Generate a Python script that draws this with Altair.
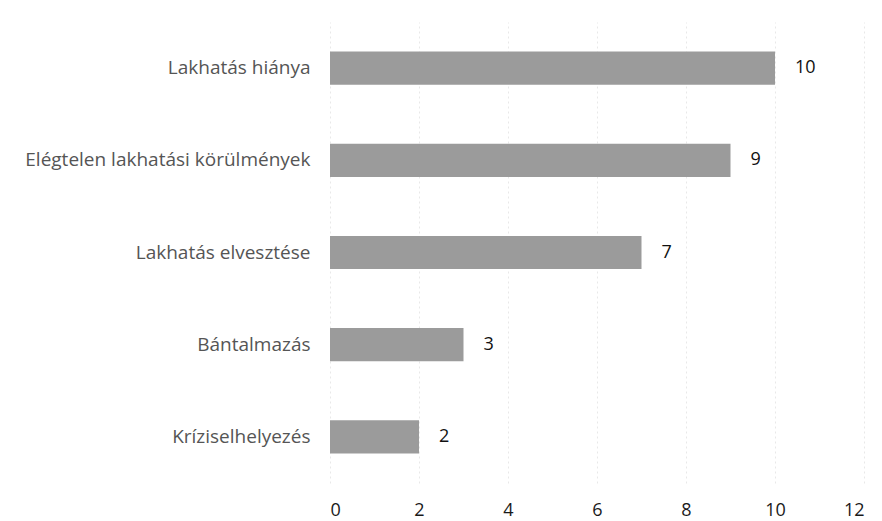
import altair as alt
import pandas as pd

categories = ["Lakhatás hiánya", "Elégtelen lakhatási körülmények", "Lakhatás elvesztése", "Bántalmazás", "Kríziselhelyezés"]
values = [10, 9, 7, 3, 2]

df = pd.DataFrame({"cat": categories, "val": values})

x = alt.X("val:Q", scale=alt.Scale(domain=[0, 12]),
          axis=alt.Axis(values=[0, 2, 4, 6, 8, 10, 12], title=None, domain=False, ticks=False,
                        labelPadding=18, labelFontSize=18, labelColor="#1a1a1a", labelFont="Open Sans",
                        grid=True, gridColor="#e8e8e8", gridDash=[2, 3]))
y = alt.Y("cat:N", sort=categories, scale=alt.Scale(paddingInner=0.64, paddingOuter=0.32),
          axis=alt.Axis(title=None, domain=False, ticks=False, labelPadding=20, labelFontSize=19,
                        labelColor="#555555", labelFont="Open Sans", labelLimit=400))

bars = alt.Chart(df).mark_bar(color="#9b9b9b").encode(x=x, y=y)
text = alt.Chart(df).mark_text(align="left", dx=20, fontSize=18, color="#111111", font="Open Sans").encode(
    x="val:Q", y=alt.Y("cat:N", sort=categories), text="val:Q")

chart = (bars + text).properties(
    width=534, height=461,
    autosize=alt.AutoSizeParams(type="none"),
    padding={"left": 322, "top": 14, "right": 10, "bottom": 41},
).configure_view(stroke=None)

chart.save("out.html", embed_options={"renderer": "svg", "actions": False})
